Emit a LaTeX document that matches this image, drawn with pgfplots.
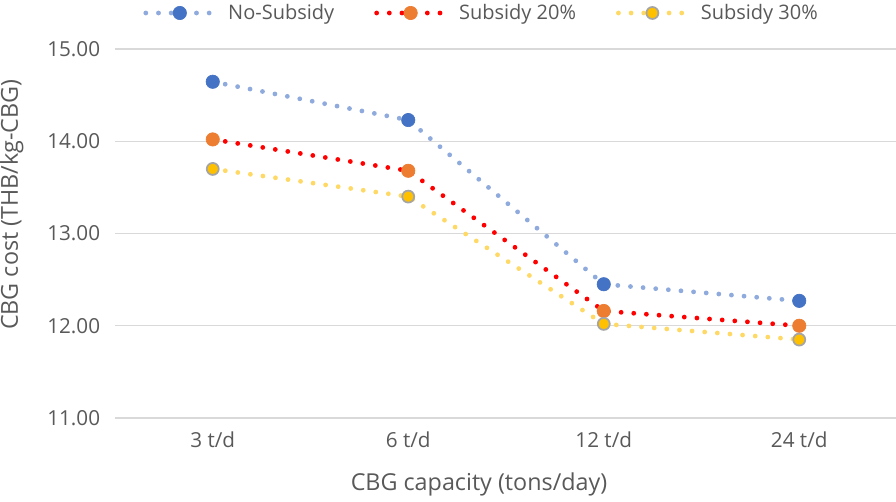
\documentclass[border=0pt]{standalone}
\usepackage{pgfplots}
\pgfplotsset{compat=1.18}
\usepackage{fontspec}
\setmainfont{Open Sans}
\definecolor{txt}{HTML}{595959}
\definecolor{gridc}{HTML}{D9D9D9}
\definecolor{blueL}{HTML}{8FAADC}
\definecolor{blueM}{HTML}{4472C4}
\definecolor{redL}{HTML}{FF0000}
\definecolor{orangeM}{HTML}{ED7D31}
\definecolor{yelL}{HTML}{FFD966}
\definecolor{yelM}{HTML}{FFC000}
\definecolor{grayB}{HTML}{A5A5A5}
\begin{document}
\begin{tikzpicture}
\path[use as bounding box] (-86.25pt,-62.25pt) rectangle ++(672pt,375.75pt);
\begin{axis}[
  at={(0pt,0pt)}, anchor=south west,
  scale only axis, width=586.5pt, height=276.75pt,
  xmin=-0.5, xmax=3.5, ymin=11, ymax=15,
  xtick={0,1,2,3}, xticklabels={3 t/d,6 t/d,12 t/d,24 t/d},
  ytick={11,12,13,14,15},
  yticklabel={\pgfmathprintnumber[fixed,fixed zerofill,precision=2]{\tick}},
  /pgf/number format/assume math mode=true,
  xmajorgrids=false, ymajorgrids=true,
  major grid style={draw=gridc, line width=0.9pt},
  axis line style={draw=none},
  major tick length=0pt, tick style={draw=none},
  tick label style={font=\fontsize{15.5}{18}\selectfont, text=txt},
  yticklabel style={anchor=east, inner sep=0pt, xshift=-11pt},
  xticklabel style={anchor=north, inner sep=0pt, yshift=-10pt},
  xlabel={CBG capacity (tons/day)},
  ylabel={CBG cost (THB/kg-CBG)},
  label style={font=\fontsize{17.5}{20}\selectfont, text=txt, inner sep=0pt},
  xlabel style={at={(axis description cs:0.4655,-0.18)}, anchor=center},
  ylabel style={at={(axis description cs:-0.132,0.578)}, anchor=center},
  clip=false,
  legend columns=3,
  legend style={at={(axis description cs:0.036,1.0976)}, anchor=west, draw=none, fill=none,
    font=\fontsize{15}{18}\selectfont, text=txt, inner sep=0pt,
    /tikz/every odd column/.append style={column sep=7pt},
    /tikz/every even column/.append style={column sep=28pt}},
  legend image code/.code={\draw[mark repeat=2, mark phase=2, #1] plot coordinates {(0pt,0pt)(25.5pt,0pt)(51pt,0pt)};},
  every axis plot/.append style={line width=3.6pt, line cap=round, dash pattern=on 0pt off 9.5pt},
]
\addplot[color=blueL, mark=*, mark size=5pt, mark options={solid, fill=blueM, draw=blueM, line width=0.5pt}]
  coordinates {(0,14.645) (1,14.23) (2,12.45) (3,12.27)};
\addlegendentry{No-Subsidy}
\addplot[color=redL, mark=*, mark size=5pt, mark options={solid, fill=orangeM, draw=orangeM, line width=0.5pt}]
  coordinates {(0,14.02) (1,13.68) (2,12.16) (3,12.00)};
\addlegendentry{Subsidy 20\%}
\addplot[color=yelL, mark=*, mark size=4.5pt, mark options={solid, fill=yelM, draw=grayB, line width=1.3pt}]
  coordinates {(0,13.70) (1,13.40) (2,12.02) (3,11.85)};
\addlegendentry{Subsidy 30\%}
\end{axis}
\end{tikzpicture}
\end{document}
